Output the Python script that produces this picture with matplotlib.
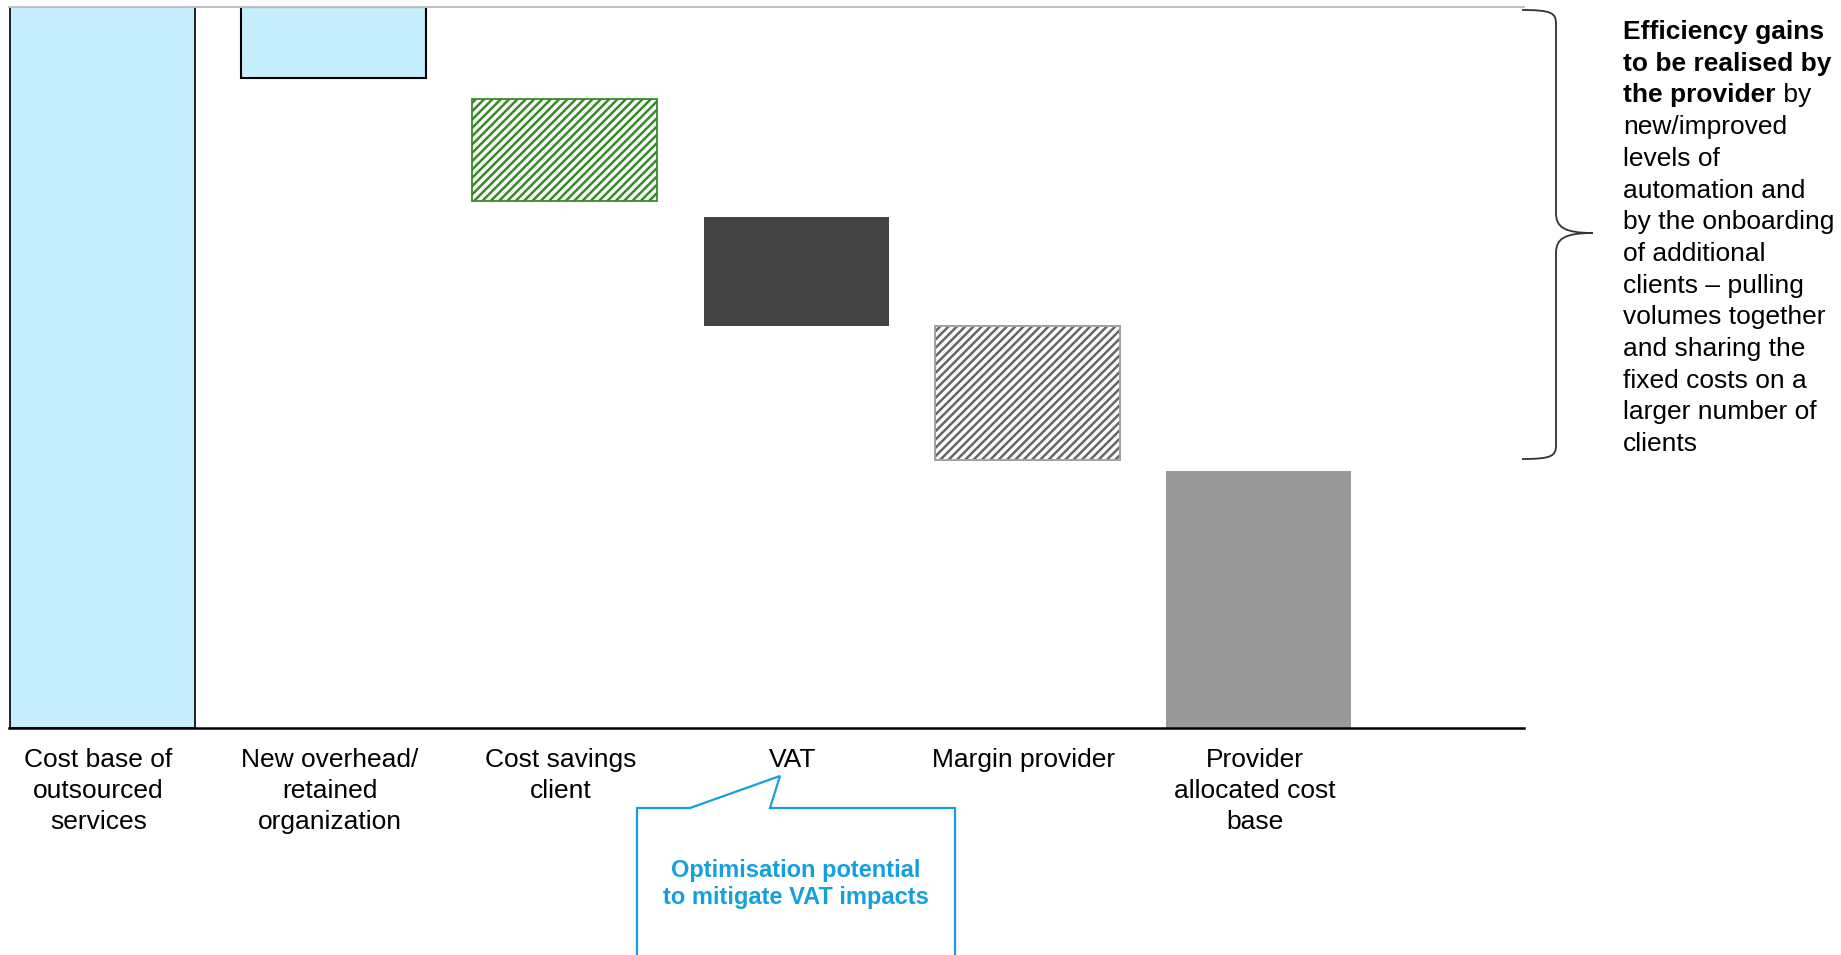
import matplotlib
matplotlib.use("Agg")
import matplotlib.pyplot as plt
from matplotlib.path import Path
from matplotlib.patches import PathPatch
import matplotlib.transforms as mtransforms
import numpy as np

plt.rcParams['font.family'] = ['Liberation Sans', 'DejaVu Sans']
plt.rcParams['hatch.linewidth'] = 1.8

# Waterfall segments (share of the outsourced cost base)
categories = ["Cost base of\noutsourced\nservices",
              "New overhead/\nretained\norganization",
              "Cost savings\nclient",
              "VAT",
              "Margin provider",
              "Provider\nallocated cost\nbase"]
bar_top = [100.0, 100.0, 87.2, 70.9, 55.8, 35.6]
bar_bottom = [0.0, 90.15, 73.1, 55.8, 37.2, 0.0]

note_bold = ["Efficiency gains", "to be realised by", "the provider"]
note_rest = [" by", "new/improved", "levels of", "automation and",
             "by the onboarding", "of additional", "clients \u2013 pulling",
             "volumes together", "and sharing the", "fixed costs on a",
             "larger number of", "clients"]
callout_text = "Optimisation potential\nto mitigate VAT impacts"

W, H = 1841, 955
fig = plt.figure(figsize=(W / 100, H / 100), dpi=100)

ax_l, ax_r, ax_t, ax_b = 9, 1524, 7, 728
ax = fig.add_axes([ax_l / W, (H - ax_b) / H, (ax_r - ax_l) / W, (ax_b - ax_t) / H])

x = np.arange(len(categories))
heights = np.array(bar_top) - np.array(bar_bottom)
bw = 0.8
light_blue = "#c6eefc"
green = "#388a28"

ax.bar(x[0], heights[0], bottom=bar_bottom[0], width=bw, color=light_blue,
       edgecolor="black", linewidth=1.2, zorder=2)
ax.bar(x[1], heights[1], bottom=bar_bottom[1], width=bw, color=light_blue,
       edgecolor="black", linewidth=1.5, zorder=2)
ax.bar(x[2], heights[2], bottom=bar_bottom[2], width=bw, color="white",
       edgecolor=green, hatch="////", linewidth=1.3, zorder=2)
ax.bar(x[3], heights[3], bottom=bar_bottom[3], width=bw, color="#444444",
       linewidth=0, zorder=2)
ax.bar(x[4], heights[4], bottom=bar_bottom[4], width=bw, color="white",
       edgecolor="#666666", hatch="////", linewidth=0, zorder=2)
ax.bar(x[4], heights[4], bottom=bar_bottom[4], width=bw, fill=False,
       edgecolor="#a0a0a0", linewidth=1.4, zorder=3)
ax.bar(x[5], heights[5], bottom=bar_bottom[5], width=bw, color="#999999",
       linewidth=0, zorder=2)

ax.set_xlim((ax_l - 102.5) / 231.2, (ax_r - 102.5) / 231.2)
ax.set_ylim(0, 100)
ax.set_yticks([])
ax.set_xticks(x)
ax.set_xticklabels(categories, fontsize=19, linespacing=1.37)
ax.tick_params(axis='x', length=0, pad=14.5)
shift = mtransforms.ScaledTranslation(-4 / 100, 0, fig.dpi_scale_trans)
for lab in ax.get_xticklabels():
    lab.set_transform(lab.get_transform() + shift)
for s in ("left", "right"):
    ax.spines[s].set_visible(False)
ax.spines["top"].set_color("#c0c0c0")
ax.spines["top"].set_linewidth(1.4)
ax.spines["bottom"].set_color("black")
ax.spines["bottom"].set_linewidth(1.8)
ax.patch.set_alpha(0)

# curly brace spanning the provider efficiency segments (figure pixels, y from top)
def fp(px, py):
    return (px, H - py)

bx0, bx1, btip = 1522, 1556, 1593
by0, bym, by1 = 10, 233, 459
verts = [fp(bx0, by0),
         fp(bx1 - 4, by0), fp(bx1, by0 + 3), fp(bx1, by0 + 14),
         fp(bx1, bym - 20),
         fp(bx1, bym - 6), fp(bx1 + 8, bym), fp(btip, bym),
         fp(bx1 + 8, bym), fp(bx1, bym + 6), fp(bx1, bym + 20),
         fp(bx1, by1 - 14),
         fp(bx1, by1 - 3), fp(bx1 - 4, by1), fp(bx0, by1)]
codes = [Path.MOVETO,
         Path.CURVE4, Path.CURVE4, Path.CURVE4,
         Path.LINETO,
         Path.CURVE4, Path.CURVE4, Path.CURVE4,
         Path.CURVE4, Path.CURVE4, Path.CURVE4,
         Path.LINETO,
         Path.CURVE4, Path.CURVE4, Path.CURVE4]
brace = PathPatch(Path(verts, codes), transform=None, fill=False,
                  edgecolor="#333333", linewidth=1.3)
fig.add_artist(brace)

# explanatory note beside the brace
tx, ty0, dy = 1623, 32, 31.7
fig.canvas.draw()
renderer = fig.canvas.get_renderer()
for i, line in enumerate(note_bold):
    t = fig.text(tx / W, (H - (ty0 + i * dy)) / H, line, fontsize=19,
                 fontweight="bold", va="center", ha="left")
last = t
bb = last.get_window_extent(renderer)
fig.text(bb.x1 / W, (H - (ty0 + 2 * dy)) / H, note_rest[0], fontsize=19,
         va="center", ha="left")
for j, line in enumerate(note_rest[1:]):
    fig.text(tx / W, (H - (ty0 + (3 + j) * dy)) / H, line, fontsize=19,
             va="center", ha="left")

# speech-bubble callout pointing at the VAT label
blue = "#14a0dc"
cverts = [fp(637, 1010), fp(637, 808), fp(690, 808), fp(780, 776),
          fp(770, 808), fp(955, 808), fp(955, 1010)]
callout = PathPatch(Path(cverts), transform=None, fill=False,
                    edgecolor=blue, linewidth=1.6, joinstyle="miter")
fig.add_artist(callout)
fig.text(796 / W, (H - 884) / H, callout_text, fontsize=17, fontweight="bold",
         color=blue, ha="center", va="center", linespacing=1.18)

fig.savefig("out.png", dpi=100)
